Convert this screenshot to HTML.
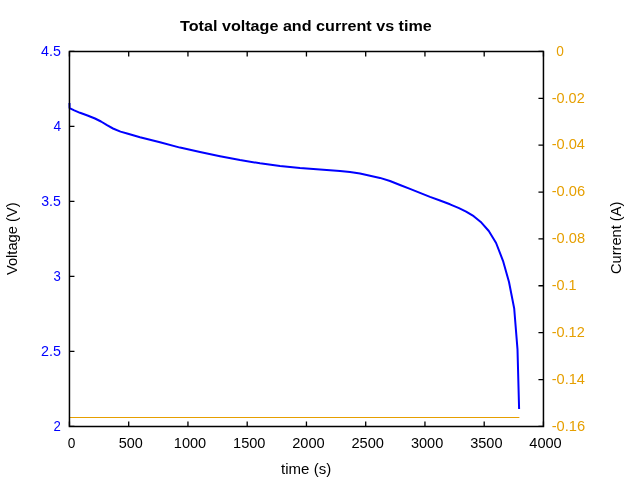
<!DOCTYPE html>
<html><head><meta charset="utf-8"><style>
html,body{margin:0;padding:0;background:#fff;}
svg{display:block;will-change:transform;}
text{font-family:"Liberation Sans",sans-serif;}
</style></head><body>
<svg width="640" height="480" viewBox="0 0 640 480">
<rect width="640" height="480" fill="#fff"/>
<text x="180.07" y="31.00" font-size="15.0" font-weight="bold" textLength="251.74" lengthAdjust="spacingAndGlyphs">Total voltage and current vs time</text>
<line x1="69.45" y1="417.5" x2="519.4" y2="417.5" stroke="#e69f00" stroke-width="1"/>
<polyline points="69.50,103.00 69.60,108.10 74.25,110.40 80.00,112.80 87.50,115.50 95.00,118.50 101.00,121.50 107.00,125.20 113.00,128.50 120.50,131.60 128.00,133.80 134.00,135.50 140.00,137.20 160.00,142.30 180.00,147.60 200.00,152.00 220.00,156.20 240.00,160.00 260.00,163.30 280.00,166.10 300.00,168.10 310.00,168.85 320.00,169.60 330.00,170.20 340.00,171.00 350.00,172.10 360.00,173.60 370.00,175.70 380.00,177.90 390.00,181.00 400.00,185.00 410.00,188.90 420.00,192.90 430.00,196.90 440.00,200.50 450.00,204.30 459.00,208.10 466.10,211.60 473.70,216.20 481.40,222.60 488.80,231.00 496.10,243.00 503.00,260.80 509.00,282.00 514.20,308.50 517.50,349.40 519.10,409.00" fill="none" stroke="#0000ff" stroke-width="2" stroke-linejoin="round"/>
<path d="M69.45,51.4H543.45V426.4H69.45Z" fill="none" stroke="#000" stroke-width="1.5"/>
<path d="M69.45,426.4v-5M69.45,51.4v5M128.70,426.4v-5M128.70,51.4v5M187.95,426.4v-5M187.95,51.4v5M247.20,426.4v-5M247.20,51.4v5M306.45,426.4v-5M306.45,51.4v5M365.70,426.4v-5M365.70,51.4v5M424.95,426.4v-5M424.95,51.4v5M484.20,426.4v-5M484.20,51.4v5M543.45,426.4v-5M543.45,51.4v5M69.45,426.40h5M69.45,351.40h5M69.45,276.40h5M69.45,201.40h5M69.45,126.40h5M69.45,51.40h5M543.45,51.40h-5M543.45,98.28h-5M543.45,145.15h-5M543.45,192.03h-5M543.45,238.90h-5M543.45,285.77h-5M543.45,332.65h-5M543.45,379.53h-5M543.45,426.40h-5" stroke="#000" stroke-width="1.3" fill="none"/>
<text x="67.70" y="447.60" font-size="14.0" textLength="7.62" lengthAdjust="spacingAndGlyphs">0</text>
<text x="118.78" y="447.60" font-size="14.0" textLength="24.09" lengthAdjust="spacingAndGlyphs">500</text>
<text x="173.79" y="447.60" font-size="14.0" textLength="32.47" lengthAdjust="spacingAndGlyphs">1000</text>
<text x="233.04" y="447.60" font-size="14.0" textLength="32.47" lengthAdjust="spacingAndGlyphs">1500</text>
<text x="292.19" y="447.60" font-size="14.0" textLength="32.58" lengthAdjust="spacingAndGlyphs">2000</text>
<text x="351.44" y="447.60" font-size="14.0" textLength="32.58" lengthAdjust="spacingAndGlyphs">2500</text>
<text x="410.91" y="447.60" font-size="14.0" textLength="32.35" lengthAdjust="spacingAndGlyphs">3000</text>
<text x="470.16" y="447.60" font-size="14.0" textLength="32.35" lengthAdjust="spacingAndGlyphs">3500</text>
<text x="529.27" y="447.60" font-size="14.0" textLength="32.49" lengthAdjust="spacingAndGlyphs">4000</text>
<text x="53.42" y="430.65" font-size="14.0" fill="#0000ff" textLength="7.35" lengthAdjust="spacingAndGlyphs">2</text>
<text x="40.96" y="355.65" font-size="14.0" fill="#0000ff" textLength="19.91" lengthAdjust="spacingAndGlyphs">2.5</text>
<text x="53.62" y="280.65" font-size="14.0" fill="#0000ff" textLength="7.32" lengthAdjust="spacingAndGlyphs">3</text>
<text x="41.18" y="205.65" font-size="14.0" fill="#0000ff" textLength="19.68" lengthAdjust="spacingAndGlyphs">3.5</text>
<text x="53.45" y="130.65" font-size="14.0" fill="#0000ff" textLength="7.62" lengthAdjust="spacingAndGlyphs">4</text>
<text x="41.03" y="55.65" font-size="14.0" fill="#0000ff" textLength="19.83" lengthAdjust="spacingAndGlyphs">4.5</text>
<text x="556.15" y="55.65" font-size="14.0" fill="#e69f00" textLength="7.62" lengthAdjust="spacingAndGlyphs">0</text>
<text x="551.69" y="102.53" font-size="14.0" fill="#e69f00" textLength="33.07" lengthAdjust="spacingAndGlyphs">-0.02</text>
<text x="551.68" y="149.40" font-size="14.0" fill="#e69f00" textLength="33.35" lengthAdjust="spacingAndGlyphs">-0.04</text>
<text x="551.68" y="196.28" font-size="14.0" fill="#e69f00" textLength="33.48" lengthAdjust="spacingAndGlyphs">-0.06</text>
<text x="551.68" y="243.15" font-size="14.0" fill="#e69f00" textLength="33.40" lengthAdjust="spacingAndGlyphs">-0.08</text>
<text x="551.69" y="290.02" font-size="14.0" fill="#e69f00" textLength="24.88" lengthAdjust="spacingAndGlyphs">-0.1</text>
<text x="551.69" y="336.90" font-size="14.0" fill="#e69f00" textLength="33.07" lengthAdjust="spacingAndGlyphs">-0.12</text>
<text x="551.68" y="383.78" font-size="14.0" fill="#e69f00" textLength="33.35" lengthAdjust="spacingAndGlyphs">-0.14</text>
<text x="551.68" y="430.65" font-size="14.0" fill="#e69f00" textLength="33.48" lengthAdjust="spacingAndGlyphs">-0.16</text>
<g transform="translate(17.3,275.1015625) rotate(-90)"><text x="0.04" y="0.00" font-size="13.8" textLength="72.69" lengthAdjust="spacingAndGlyphs">Voltage (V)</text></g>
<g transform="translate(620.8,274.02998046875) rotate(-90)"><text x="-0.01" y="0.00" font-size="13.8" textLength="72.31" lengthAdjust="spacingAndGlyphs">Current (A)</text></g>
<text x="281.07" y="473.80" font-size="13.8" textLength="50.11" lengthAdjust="spacingAndGlyphs">time (s)</text>
</svg>
</body></html>
